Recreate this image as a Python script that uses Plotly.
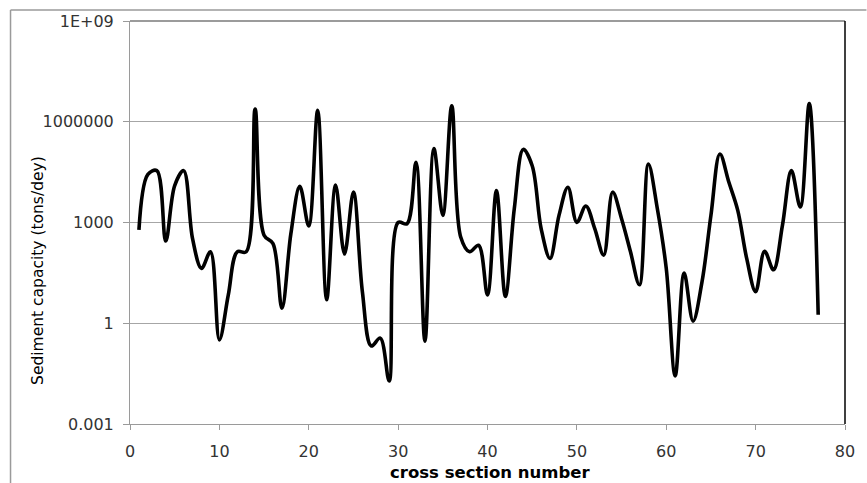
import plotly.graph_objects as go

# Cross-section index along the reach
section = list(range(1, 78))

# Sediment transport capacity at each cross section (tons/day)
capacity = [
    600, 27000, 35000, 280, 12600, 35000, 330, 43, 134, 0.32,
    7, 134, 134, 2.4e6, 420, 236, 2.8, 466, 12000, 790,
    2.2e6, 5, 13000, 115, 8000, 8.7, 0.21, 0.36, 0.019, 1000,
    920, 62000, 0.29, 160000, 1630, 3e6, 370, 134, 210, 7,
    9000, 6.3, 2600, 150000, 49000, 660, 85, 1630, 11200, 1000,
    3100, 660, 107, 8000, 1300, 134, 14, 55000, 2600, 43,
    0.027, 31, 1.15, 17, 1630, 110000, 16000, 2300, 85, 8.7,
    140, 39, 820, 35000, 2900, 3.5e6, 1.8,
]

y_tickvals = [0.001, 1, 1000, 1000000, 1e9]
y_ticktext = ["0.001", "1", "1000", "1000000", "1E+09"]
x_tickvals = [0, 10, 20, 30, 40, 50, 60, 70, 80]

FONT = "DejaVu Sans"

fig = go.Figure()
fig.add_trace(go.Scatter(
    x=section, y=capacity, mode="lines",
    line=dict(color="black", width=3.6, shape="spline", smoothing=1.0),
    showlegend=False, hoverinfo="x+y",
))

fig.update_layout(
    width=867, height=483,
    margin=dict(l=130, r=19, t=18, b=59),
    paper_bgcolor="white", plot_bgcolor="white",
    font=dict(family=FONT, size=15, color="#222"),
    xaxis=dict(
        range=[0, 80], tickvals=x_tickvals, showgrid=False,
        showline=True, linecolor="#9a9a9a", linewidth=1,
        ticks="outside", ticklen=5, tickcolor="#9a9a9a",
        zeroline=False, tickfont=dict(size=16, color="#333"),
        ticklabelstandoff=8,
    ),
    yaxis=dict(
        type="log", range=[-3, 9], tickvals=y_tickvals, ticktext=y_ticktext,
        showgrid=True, gridcolor="#a6a6a6", gridwidth=1,
        showline=True, linecolor="#9a9a9a", linewidth=1,
        ticks="outside", ticklen=6, tickcolor="#9a9a9a",
        zeroline=False, tickfont=dict(size=16, color="#333"),
        ticklabelstandoff=6,
    ),
    annotations=[
        dict(text="Sediment capacity (tons/dey)", xref="paper", yref="paper",
             x=-0.128, y=0.381, textangle=-90, showarrow=False,
             font=dict(family=FONT, size=15.5, color="black"),
             xanchor="center", yanchor="middle"),
        dict(text="<b>cross section number</b>", xref="paper", yref="paper",
             x=0.5035, y=-0.1207, showarrow=False,
             font=dict(family=FONT, size=16.5, color="black"),
             xanchor="center", yanchor="middle"),
    ],
    shapes=[
        # plot-area frame: top and right edges
        dict(type="line", xref="paper", yref="paper", x0=0, x1=1, y0=1, y1=1,
             line=dict(color="#7a7a7a", width=1.5)),
        dict(type="line", xref="paper", yref="paper", x0=1, x1=1, y0=0, y1=1,
             line=dict(color="black", width=1.5)),
        # outer chart border
        dict(type="line", xref="paper", yref="paper", x0=-0.1671, x1=-0.1671,
             y0=1.027, y1=-0.2, line=dict(color="#9a9a9a", width=1.5)),
        dict(type="line", xref="paper", yref="paper", x0=-0.1671, x1=1.03,
             y0=1.027, y1=1.027, line=dict(color="#9a9a9a", width=1.5)),
    ],
)

fig.write_html("out.html")
